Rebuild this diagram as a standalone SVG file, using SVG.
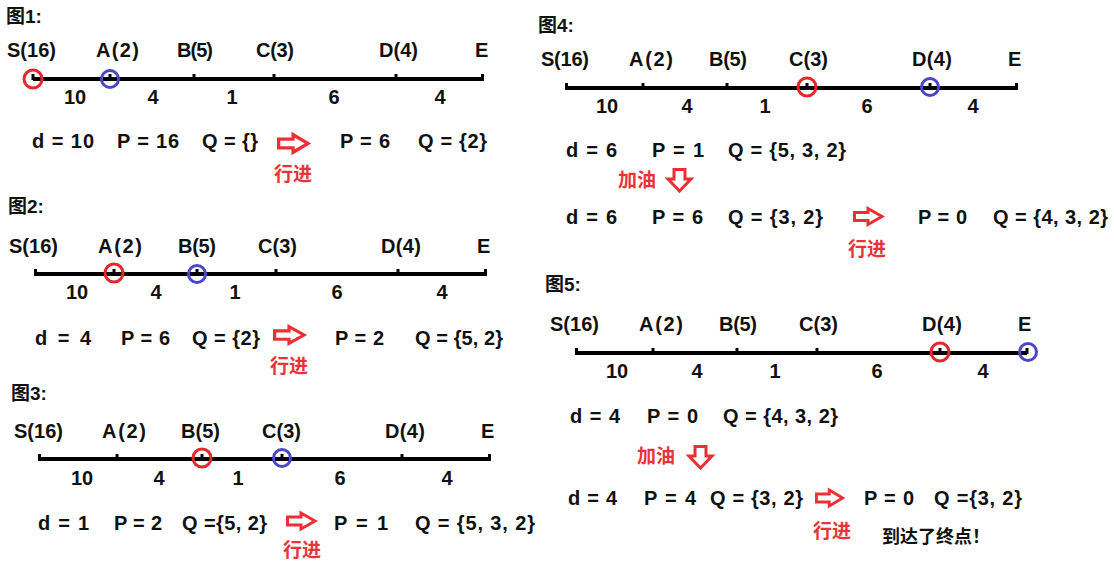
<svg xmlns="http://www.w3.org/2000/svg" xmlns:xlink="http://www.w3.org/1999/xlink" width="1114" height="563" viewBox="0 0 1114 563">
<style>
text{font-family:"Liberation Sans","Noto Sans CJK SC",sans-serif;font-weight:bold;fill:#111}
.t{font-size:19px}
.lb{font-size:20px}
.ds{font-size:20px;text-anchor:middle}
.f{font-size:20px}
.cn{font-family:"Noto Sans CJK SC",sans-serif;font-size:19px;fill:#e8333a}
.end{font-family:"Noto Sans CJK SC",sans-serif;font-size:18px;fill:#111}
.ln{stroke:#000;stroke-width:4}
.tk{fill:#000}
.rc{fill:none;stroke:#e5262b;stroke-width:3}
.bc{fill:none;stroke:#4a46c8;stroke-width:3}
.ar{fill:#fff;stroke:#ec2f35;stroke-width:3;stroke-linejoin:miter}
</style>
<defs>
<path id="ra" d="M1.5,-4 H15 V-8 L29,0 L15,8 V4 H1.5 Z"/>
<path id="da" d="M-5.5,1.5 H5.5 V11 H11.5 L0,23 L-11.5,11 H-5.5 Z"/>
</defs>
<rect width="1114" height="563" fill="#fff"/>

<g id="fig1">
<text class="t" x="6" y="23">图1:</text>
<g class="lb">
<text x="7" y="57" textLength="49">S(16)</text>
<text x="96" y="57" textLength="43">A(2)</text>
<text x="177" y="57" textLength="36">B(5)</text>
<text x="256" y="57" textLength="38">C(3)</text>
<text x="379" y="57" textLength="39">D(4)</text>
<text x="475" y="57">E</text>
</g>
<line class="ln" x1="33" y1="79" x2="483" y2="79"/>
<g class="tk">
<rect x="31.5" y="74" width="3" height="6"/><rect x="108.5" y="74" width="3" height="6"/><rect x="192.5" y="74" width="3" height="6"/><rect x="272.5" y="74" width="3" height="6"/><rect x="394.5" y="74" width="3" height="6"/><rect x="481" y="74" width="3" height="7"/>
</g>
<circle class="rc" cx="33" cy="79" r="9"/>
<circle class="bc" cx="110" cy="79" r="8.5"/>
<text class="ds" x="75" y="104">10</text><text class="ds" x="153" y="104">4</text><text class="ds" x="232" y="104">1</text><text class="ds" x="334" y="104">6</text><text class="ds" x="440" y="104">4</text>
<text class="f" x="32" y="148" textLength="62">d = 10</text>
<text class="f" x="117" y="148" textLength="62">P = 16</text>
<text class="f" x="202" y="148" textLength="56">Q = {}</text>
<text class="f" x="340" y="148" textLength="50">P = 6</text>
<text class="f" x="418" y="148" textLength="69">Q = {2}</text>
<text class="cn" x="274" y="181">行进</text>
</g>

<g id="fig2">
<text class="t" x="8" y="213">图2:</text>
<g class="lb">
<text x="9" y="253" textLength="49">S(16)</text>
<text x="98" y="253" textLength="44">A(2)</text>
<text x="178" y="253" textLength="38">B(5)</text>
<text x="258" y="253" textLength="39">C(3)</text>
<text x="381" y="253" textLength="40">D(4)</text>
<text x="477" y="253">E</text>
</g>
<line class="ln" x1="35" y1="274" x2="486" y2="274"/>
<g class="tk">
<rect x="34" y="269" width="3" height="7"/><rect x="112.5" y="269" width="3" height="6"/><rect x="195.5" y="269" width="3" height="6"/><rect x="274.5" y="269" width="3" height="6"/><rect x="396.5" y="269" width="3" height="6"/><rect x="484" y="269" width="3" height="7"/>
</g>
<circle class="rc" cx="114" cy="273" r="9"/>
<circle class="bc" cx="197" cy="274" r="8.5"/>
<text class="ds" x="77" y="299">10</text><text class="ds" x="156" y="299">4</text><text class="ds" x="235" y="299">1</text><text class="ds" x="337" y="299">6</text><text class="ds" x="442" y="299">4</text>
<text class="f" x="35" y="345" textLength="56">d =  4</text>
<text class="f" x="121" y="345" textLength="49">P = 6</text>
<text class="f" x="192" y="345" textLength="68">Q = {2}</text>
<text class="f" x="335" y="345" textLength="49">P = 2</text>
<text class="f" x="415" y="345" textLength="88">Q = {5, 2}</text>
<text class="cn" x="270" y="373">行进</text>
</g>

<g id="fig3">
<text class="t" x="11" y="400">图3:</text>
<g class="lb">
<text x="14" y="438" textLength="49">S(16)</text>
<text x="102" y="438" textLength="44">A(2)</text>
<text x="181" y="438" textLength="39">B(5)</text>
<text x="262" y="438" textLength="39">C(3)</text>
<text x="385" y="438" textLength="40">D(4)</text>
<text x="481" y="438">E</text>
</g>
<line class="ln" x1="39" y1="459" x2="490" y2="459"/>
<g class="tk">
<rect x="38" y="454" width="3" height="7"/><rect x="115.5" y="454" width="3" height="6"/><rect x="200.5" y="454" width="3" height="6"/><rect x="280.5" y="454" width="3" height="6"/><rect x="400.5" y="454" width="3" height="6"/><rect x="488" y="454" width="3" height="7"/>
</g>
<circle class="rc" cx="202" cy="458" r="9"/>
<circle class="bc" cx="282" cy="458" r="8.5"/>
<text class="ds" x="82" y="485">10</text><text class="ds" x="159" y="485">4</text><text class="ds" x="238" y="485">1</text><text class="ds" x="340" y="485">6</text><text class="ds" x="447" y="485">4</text>
<text class="f" x="38" y="530" textLength="51">d = 1</text>
<text class="f" x="114" y="530" textLength="48">P = 2</text>
<text class="f" x="182" y="530" textLength="85">Q ={5, 2}</text>
<text class="f" x="334" y="530" textLength="54">P =  1</text>
<text class="f" x="415" y="530" textLength="120">Q =  {5, 3, 2}</text>
<text class="cn" x="283" y="557">行进</text>
</g>

<g id="fig4">
<text class="t" x="538" y="32">图4:</text>
<g class="lb">
<text x="541" y="66" textLength="48">S(16)</text>
<text x="629" y="66" textLength="44">A(2)</text>
<text x="709" y="66" textLength="38">B(5)</text>
<text x="789" y="66" textLength="39">C(3)</text>
<text x="912" y="66" textLength="40">D(4)</text>
<text x="1008" y="66">E</text>
</g>
<line class="ln" x1="566" y1="88" x2="1017" y2="88"/>
<g class="tk">
<rect x="565" y="83" width="3" height="7"/><rect x="641.5" y="83" width="3" height="6"/><rect x="725.5" y="83" width="3" height="6"/><rect x="805.5" y="83" width="3" height="6"/><rect x="928.5" y="83" width="3" height="6"/><rect x="1015" y="83" width="3" height="7"/>
</g>
<circle class="rc" cx="807" cy="87" r="9"/>
<circle class="bc" cx="930" cy="87" r="8.5"/>
<text class="ds" x="607" y="113">10</text><text class="ds" x="687" y="113">4</text><text class="ds" x="765" y="113">1</text><text class="ds" x="867" y="113">6</text><text class="ds" x="973" y="113">4</text>
<text class="f" x="566" y="157" textLength="51">d =  6</text>
<text class="f" x="652" y="157" textLength="52">P =  1</text>
<text class="f" x="728" y="157" textLength="118">Q =  {5, 3, 2}</text>
<text class="cn" x="618" y="187">加油</text>
<text class="f" x="566" y="224" textLength="51">d =  6</text>
<text class="f" x="652" y="224" textLength="51">P = 6</text>
<text class="f" x="728" y="224" textLength="95">Q = {3, 2}</text>
<text class="f" x="918" y="224" textLength="49">P = 0</text>
<text class="f" x="993" y="224" textLength="115">Q = {4, 3, 2}</text>
<text class="cn" x="848" y="256">行进</text>
</g>

<g id="fig5">
<text class="t" x="545" y="291">图5:</text>
<g class="lb">
<text x="550" y="331" textLength="49">S(16)</text>
<text x="639" y="331" textLength="44">A(2)</text>
<text x="719" y="331" textLength="38">B(5)</text>
<text x="799" y="331" textLength="39">C(3)</text>
<text x="922" y="331" textLength="40">D(4)</text>
<text x="1018" y="331">E</text>
</g>
<line class="ln" x1="576" y1="353" x2="1027" y2="353"/>
<g class="tk">
<rect x="575" y="348" width="3" height="7"/><rect x="651.5" y="348" width="3" height="6"/><rect x="735.5" y="348" width="3" height="6"/><rect x="815.5" y="348" width="3" height="6"/><rect x="938.5" y="348" width="3" height="6"/><rect x="1025.5" y="348" width="3" height="6"/>
</g>
<circle class="rc" cx="940" cy="352" r="9"/>
<circle class="bc" cx="1028" cy="352" r="8.5"/>
<text class="ds" x="617" y="378">10</text><text class="ds" x="697" y="378">4</text><text class="ds" x="775" y="378">1</text><text class="ds" x="877" y="378">6</text><text class="ds" x="983" y="378">4</text>
<text class="f" x="570" y="423" textLength="50">d = 4</text>
<text class="f" x="647" y="423" textLength="51">P = 0</text>
<text class="f" x="723" y="423" textLength="115">Q = {4, 3, 2}</text>
<text class="cn" x="637" y="463">加油</text>
<text class="f" x="568" y="505" textLength="49">d = 4</text>
<text class="f" x="644" y="505" textLength="52">P = 4</text>
<text class="f" x="710" y="505" textLength="93">Q = {3, 2}</text>
<text class="f" x="864" y="505" textLength="50">P = 0</text>
<text class="f" x="934" y="505" textLength="88">Q ={3, 2}</text>
<text class="cn" x="813" y="538">行进</text>
<text class="end" x="882" y="543">到达了终点！</text>
</g>

<g id="connectors">
<use class="ar" xlink:href="#ra" href="#ra" transform="translate(277,143.5) scale(1.07,1.1)"/>
<use class="ar" xlink:href="#ra" href="#ra" transform="translate(273,335) scale(1.07,1.05)"/>
<use class="ar" xlink:href="#ra" href="#ra" transform="translate(286,521)"/>
<use class="ar" xlink:href="#ra" href="#ra" transform="translate(853,216.5)"/>
<use class="ar" xlink:href="#ra" href="#ra" transform="translate(815,498) scale(0.95,1)"/>
<use class="ar" xlink:href="#da" href="#da" transform="translate(679.5,168)"/>
<use class="ar" xlink:href="#da" href="#da" transform="translate(700.5,445)"/>
</g>
</svg>
